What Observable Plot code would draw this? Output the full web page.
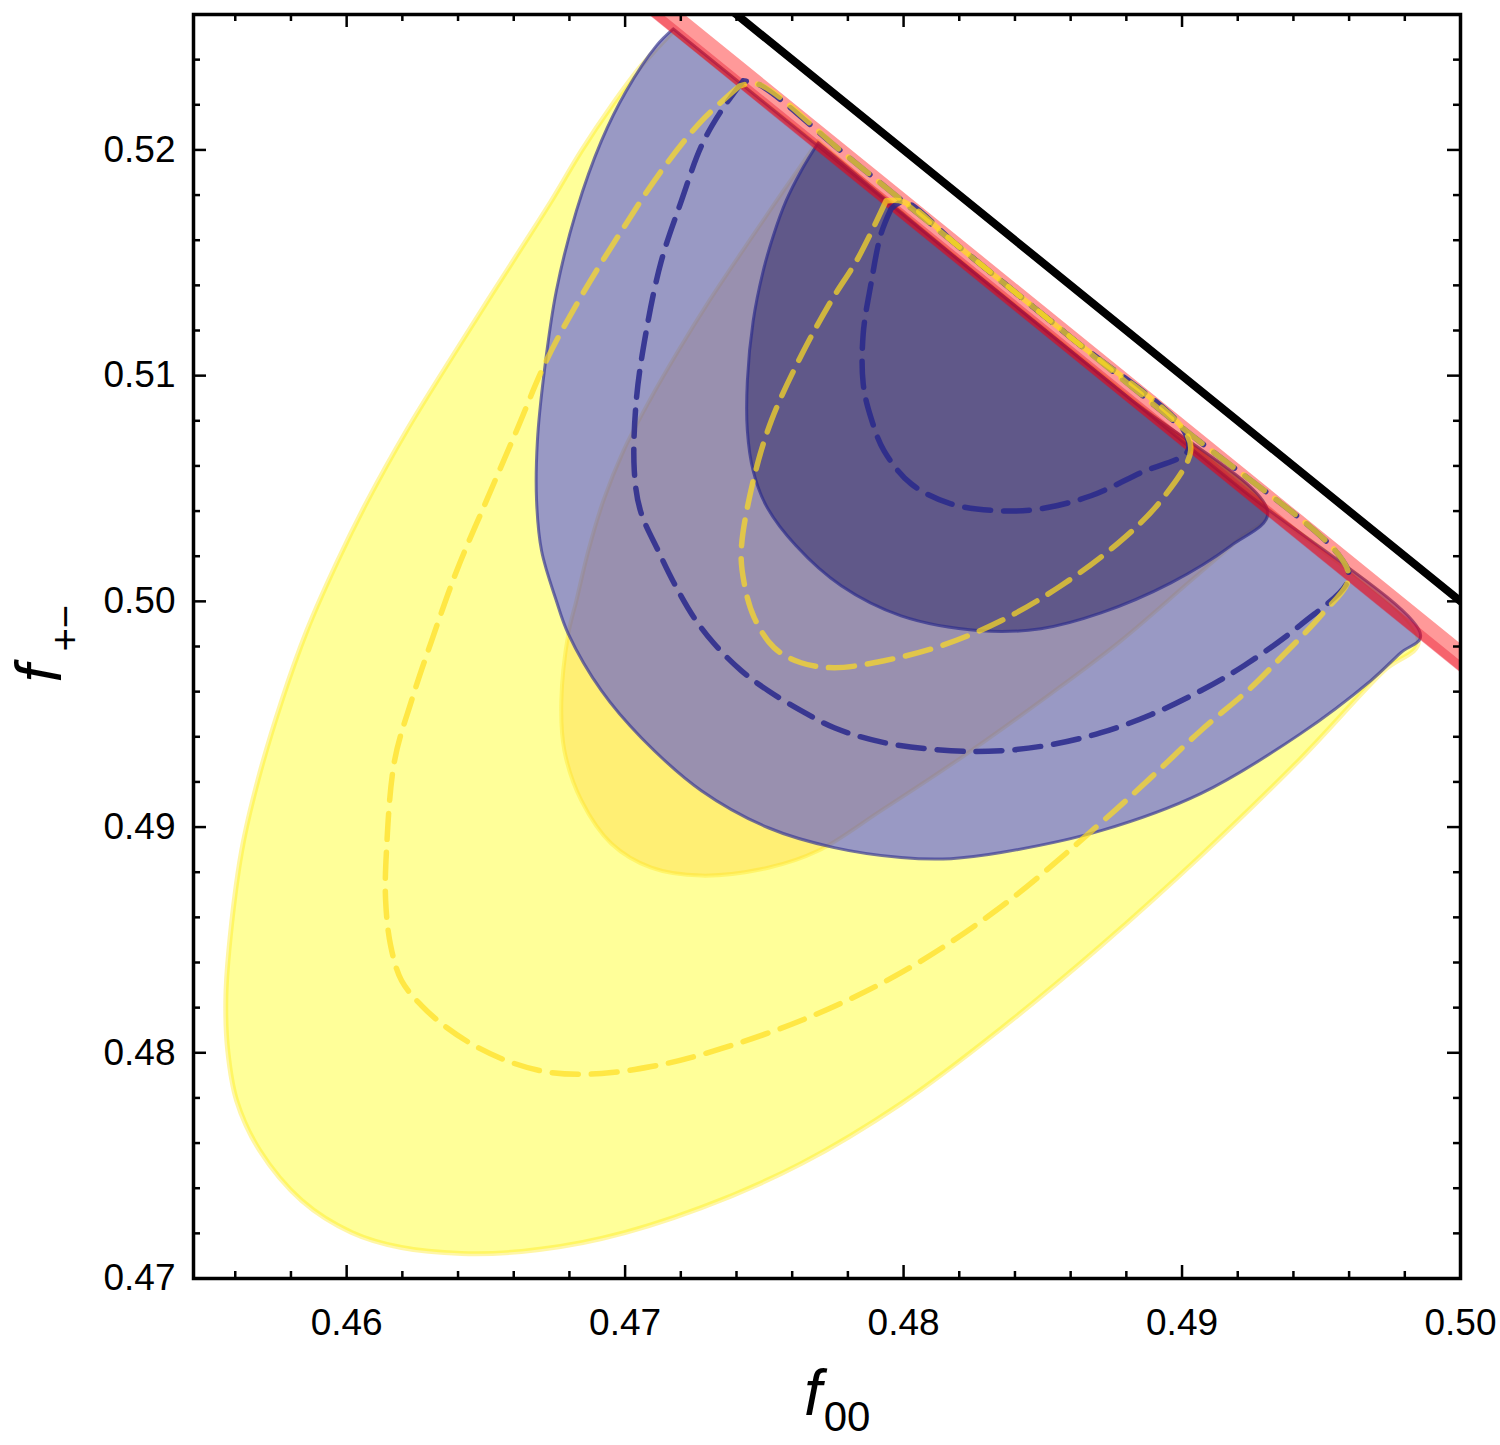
<!DOCTYPE html>
<html><head><meta charset="utf-8">
<script src="https://cdn.jsdelivr.net/npm/d3@7"></script>
<script src="https://cdn.jsdelivr.net/npm/@observablehq/plot@0.6"></script>
<style>body{margin:0;background:#fff;} svg{display:block}</style>
</head><body><div id="chart"></div>
<script>
// ---- tick values ----
const xTicksMajor = [0.46, 0.47, 0.48, 0.49, 0.50];
const xTicksMinor = [0.456, 0.458, 0.462, 0.464, 0.466, 0.468, 0.472, 0.474, 0.476, 0.478, 0.482, 0.484, 0.486, 0.488, 0.492, 0.494, 0.496, 0.498];
const yTicksMajor = [0.47, 0.48, 0.49, 0.50, 0.51, 0.52];
const yTicksMinor = [0.472, 0.474, 0.476, 0.478, 0.482, 0.484, 0.486, 0.488, 0.492, 0.494, 0.496, 0.498, 0.502, 0.504, 0.506, 0.508, 0.512, 0.514, 0.516, 0.518, 0.522, 0.524];

// ---- contour regions [f00, f+-] ----
const yellowOuter = [[0.47173,0.52527],[0.47058,0.52372],[0.46951,0.52195],[0.46843,0.51996],[0.46735,0.51774],[0.46621,0.51553],[0.46506,0.51331],[0.46370,0.51066],[0.46215,0.50756],[0.46075,0.50446],[0.45968,0.50180],[0.45857,0.49870],[0.45767,0.49560],[0.45681,0.49206],[0.45623,0.48895],[0.45577,0.48453],[0.45566,0.48231],[0.45573,0.48010],[0.45605,0.47788],[0.45688,0.47567],[0.45839,0.47345],[0.46018,0.47204],[0.46197,0.47137],[0.46413,0.47111],[0.46628,0.47120],[0.46915,0.47177],[0.47274,0.47314],[0.47632,0.47509],[0.47991,0.47775],[0.48350,0.48107],[0.48709,0.48475],[0.49067,0.48873],[0.49426,0.49303],[0.49724,0.49693],[0.49849,0.49825],[0.4920,0.5051],[0.4840,0.5131],[0.4770,0.5201],[0.47173,0.52527]];
const yellowInner = [[0.47693,0.52040],[0.47568,0.51818],[0.47446,0.51597],[0.47302,0.51331],[0.47191,0.51110],[0.47087,0.50888],[0.46994,0.50667],[0.46922,0.50446],[0.46868,0.50224],[0.46825,0.50003],[0.46796,0.49856],[0.46771,0.49560],[0.46782,0.49338],[0.46843,0.49117],[0.46951,0.48926],[0.47094,0.48820],[0.47274,0.48785],[0.47514,0.48820],[0.47693,0.48895],[0.47919,0.49073],[0.48206,0.49307],[0.48529,0.49591],[0.48780,0.49825],[0.49031,0.50091],[0.49211,0.50282],[0.49308,0.50388],[0.4880,0.5091],[0.4820,0.5151],[0.47693,0.52040]];
const blueOuter = [[0.47173,0.52536],[0.47112,0.52461],[0.47004,0.52261],[0.46915,0.52040],[0.46825,0.51730],[0.46753,0.51376],[0.46710,0.51021],[0.46685,0.50711],[0.46682,0.50446],[0.46700,0.50224],[0.46753,0.50003],[0.46796,0.49856],[0.46915,0.49604],[0.47058,0.49396],[0.47274,0.49161],[0.47514,0.48997],[0.47751,0.48909],[0.47991,0.48865],[0.48170,0.48860],[0.48350,0.48887],[0.48709,0.48984],[0.49067,0.49148],[0.49426,0.49414],[0.49677,0.49648],[0.49785,0.49772],[0.49857,0.49848],[0.4920,0.5051],[0.4840,0.5131],[0.4770,0.5201],[0.47173,0.52536]];
const blueInner = [[0.47693,0.52031],[0.47632,0.51907],[0.47578,0.51774],[0.47532,0.51619],[0.47496,0.51464],[0.47460,0.51243],[0.47439,0.50977],[0.47439,0.50756],[0.47460,0.50578],[0.47507,0.50423],[0.47614,0.50246],[0.47776,0.50069],[0.47991,0.49936],[0.48278,0.49870],[0.48493,0.49879],[0.48709,0.49949],[0.48960,0.50082],[0.49175,0.50246],[0.49308,0.50392],[0.4880,0.5091],[0.4820,0.5151],[0.47693,0.52031]];

// ---- dashed contours ----
const blueDashOuter = [[0.47424,0.52306],[0.47345,0.52173],[0.47274,0.52018],[0.47202,0.51774],[0.47130,0.51508],[0.47076,0.51198],[0.47040,0.50888],[0.47033,0.50578],[0.47055,0.50401],[0.47119,0.50224],[0.47177,0.50078],[0.47248,0.49927],[0.47320,0.49812],[0.47417,0.49693],[0.47514,0.49604],[0.47632,0.49516],[0.47751,0.49440],[0.47930,0.49374],[0.48170,0.49338],[0.48350,0.49338],[0.48529,0.49365],[0.48709,0.49418],[0.48888,0.49498],[0.49067,0.49604],[0.49222,0.49715],[0.49426,0.49896],[0.49598,0.50100],[0.4956,0.5021],[0.4900,0.5077],[0.4840,0.5137],[0.4780,0.5197],[0.4748,0.5229],[0.47424,0.52306]];
const yellowDashOuter = [[0.47410,0.52283],[0.47274,0.52128],[0.47130,0.51907],[0.46987,0.51641],[0.46843,0.51353],[0.46717,0.51066],[0.46610,0.50756],[0.46502,0.50446],[0.46395,0.50135],[0.46305,0.49825],[0.46233,0.49560],[0.46172,0.49294],[0.46143,0.48895],[0.46140,0.48674],[0.46158,0.48475],[0.46197,0.48320],[0.46269,0.48209],[0.46359,0.48112],[0.46466,0.48027],[0.46592,0.47957],[0.46735,0.47912],[0.46915,0.47908],[0.47094,0.47939],[0.47274,0.47992],[0.47632,0.48143],[0.47991,0.48355],[0.48350,0.48647],[0.48709,0.49019],[0.48888,0.49219],[0.49067,0.49427],[0.49247,0.49617],[0.49354,0.49750],[0.49498,0.49936],[0.49598,0.50100],[0.4956,0.5021],[0.4900,0.5077],[0.4840,0.5137],[0.4780,0.5197],[0.4748,0.5229],[0.47410,0.52283]];
const blueDashInner = [[0.47955,0.51739],[0.47919,0.51628],[0.47883,0.51407],[0.47855,0.51185],[0.47855,0.50964],[0.47883,0.50813],[0.47930,0.50667],[0.48027,0.50521],[0.48170,0.50432],[0.48350,0.50401],[0.48493,0.50410],[0.48673,0.50468],[0.48852,0.50570],[0.49021,0.50667],[0.4900,0.5077],[0.4860,0.5117],[0.4820,0.5157],[0.4800,0.5177],[0.47955,0.51739]];
const yellowDashInner = [[0.47937,0.51774],[0.47837,0.51522],[0.47740,0.51331],[0.47632,0.51088],[0.47525,0.50800],[0.47460,0.50534],[0.47417,0.50224],[0.47428,0.50078],[0.47464,0.49927],[0.47535,0.49795],[0.47632,0.49728],[0.47751,0.49706],[0.47930,0.49737],[0.48135,0.49803],[0.48350,0.49914],[0.48565,0.50069],[0.48780,0.50268],[0.48924,0.50446],[0.49031,0.50667],[0.4900,0.5077],[0.4860,0.5117],[0.4820,0.5157],[0.4800,0.5177],[0.47937,0.51774]];

// ---- constraint lines ----
const blackLine = [[0.472, 0.528], [0.502, 0.498]];        // f00 + f+- = 1
const redBandWide = [[0.470, 0.5275], [0.502, 0.4955]];
const redBandCore = [[0.470, 0.5271], [0.502, 0.4951]];

// ---- labels ----
const xLabelMain = "f", xLabelSub = "00";
const yLabelMain = "f", yLabelSub = "+\u2212";

const W = 1500, H = 1445, mL = 193, mR = 40, mT = 14, mB = 167;
const FW = W - mL - mR, FH = H - mT - mB;
const MAJ = 13, MIN = 7;
const font = "Liberation Sans, Arial, Helvetica, sans-serif";
const DASH = "26,13";

const region = (data, o) => Plot.line(data, {x: d => d[0], y: d => d[1], curve: "catmull-rom", ...o});

const chart = Plot.plot({
  width: W, height: H,
  marginLeft: mL, marginRight: mR, marginTop: mT, marginBottom: mB,
  x: {domain: [0.4545, 0.50]},
  y: {domain: [0.47, 0.526]},
  style: {fontFamily: font, background: "white", color: "black", overflow: "visible"},
  marks: [
    region(yellowOuter, {fill: "#ffff00", fillOpacity: 0.4, stroke: "#ffe600", strokeOpacity: 0.35, strokeWidth: 5}),
    region(yellowInner, {fill: "rgb(255,215,60)", fillOpacity: 0.4, stroke: "#ffdd00", strokeOpacity: 0.3, strokeWidth: 4}),
    region(blueOuter, {fill: "rgb(28,28,248)", fillOpacity: 0.45, stroke: "rgb(60,60,150)", strokeOpacity: 0.7, strokeWidth: 3}),
    region(blueInner, {fill: "rgb(39,31,100)", fillOpacity: 0.5, stroke: "rgb(45,45,140)", strokeOpacity: 0.7, strokeWidth: 3}),
    Plot.line(redBandWide, {x: d => d[0], y: d => d[1], stroke: "red", strokeOpacity: 0.4, strokeWidth: 22, clip: true}),
    Plot.line(redBandCore, {x: d => d[0], y: d => d[1], stroke: "rgb(230,0,30)", strokeOpacity: 0.35, strokeWidth: 9, clip: true}),
    region(blueDashOuter, {stroke: "rgb(40,40,140)", strokeOpacity: 0.85, strokeWidth: 5.5, strokeDasharray: DASH}),
    region(blueDashInner, {stroke: "rgb(40,40,140)", strokeOpacity: 0.85, strokeWidth: 5.5, strokeDasharray: DASH}),
    region(yellowDashOuter, {stroke: "#ffdd20", strokeOpacity: 0.7, strokeWidth: 5.5, strokeDasharray: DASH}),
    region(yellowDashInner, {stroke: "#ffdd20", strokeOpacity: 0.7, strokeWidth: 5.5, strokeDasharray: DASH}),
    Plot.line(blackLine, {x: d => d[0], y: d => d[1], stroke: "black", strokeWidth: 8, clip: true}),
    // inward ticks on all four sides
    Plot.tickX(xTicksMajor, {x: d => d, insetTop: FH - MAJ, stroke: "black", strokeWidth: 2.5}),
    Plot.tickX(xTicksMinor, {x: d => d, insetTop: FH - MIN, stroke: "black", strokeWidth: 2.5}),
    Plot.tickX(xTicksMajor, {x: d => d, insetBottom: FH - MAJ, stroke: "black", strokeWidth: 2.5}),
    Plot.tickX(xTicksMinor, {x: d => d, insetBottom: FH - MIN, stroke: "black", strokeWidth: 2.5}),
    Plot.tickY(yTicksMajor, {y: d => d, insetRight: FW - MAJ, stroke: "black", strokeWidth: 2.5}),
    Plot.tickY(yTicksMinor, {y: d => d, insetRight: FW - MIN, stroke: "black", strokeWidth: 2.5}),
    Plot.tickY(yTicksMajor, {y: d => d, insetLeft: FW - MAJ, stroke: "black", strokeWidth: 2.5}),
    Plot.tickY(yTicksMinor, {y: d => d, insetLeft: FW - MIN, stroke: "black", strokeWidth: 2.5}),
    Plot.axisX(xTicksMajor, {tickSize: 0, tickPadding: 30, tickFormat: d3.format(".2f"), fontSize: 37, label: null}),
    Plot.axisY(yTicksMajor, {tickSize: 0, tickPadding: 18, tickFormat: d3.format(".2f"), fontSize: 37, label: null}),
    Plot.frame({stroke: "black", strokeWidth: 3.5}),
    // axis titles
    Plot.text([xLabelMain], {text: d => d, frameAnchor: "bottom", dx: -14, dy: 136, fontSize: 64, fontStyle: "italic"}),
    Plot.text([xLabelSub], {text: d => d, frameAnchor: "bottom", dx: 20, dy: 152, fontSize: 42}),
    Plot.text([yLabelMain], {text: d => d, frameAnchor: "left", rotate: -90, dx: -153, dy: 36, fontSize: 64, fontStyle: "italic"}),
    Plot.text([yLabelSub], {text: d => d, frameAnchor: "left", rotate: -90, dx: -127, dy: 5, fontSize: 40})
  ]
});
document.getElementById("chart").appendChild(chart);
</script>
</body></html>
